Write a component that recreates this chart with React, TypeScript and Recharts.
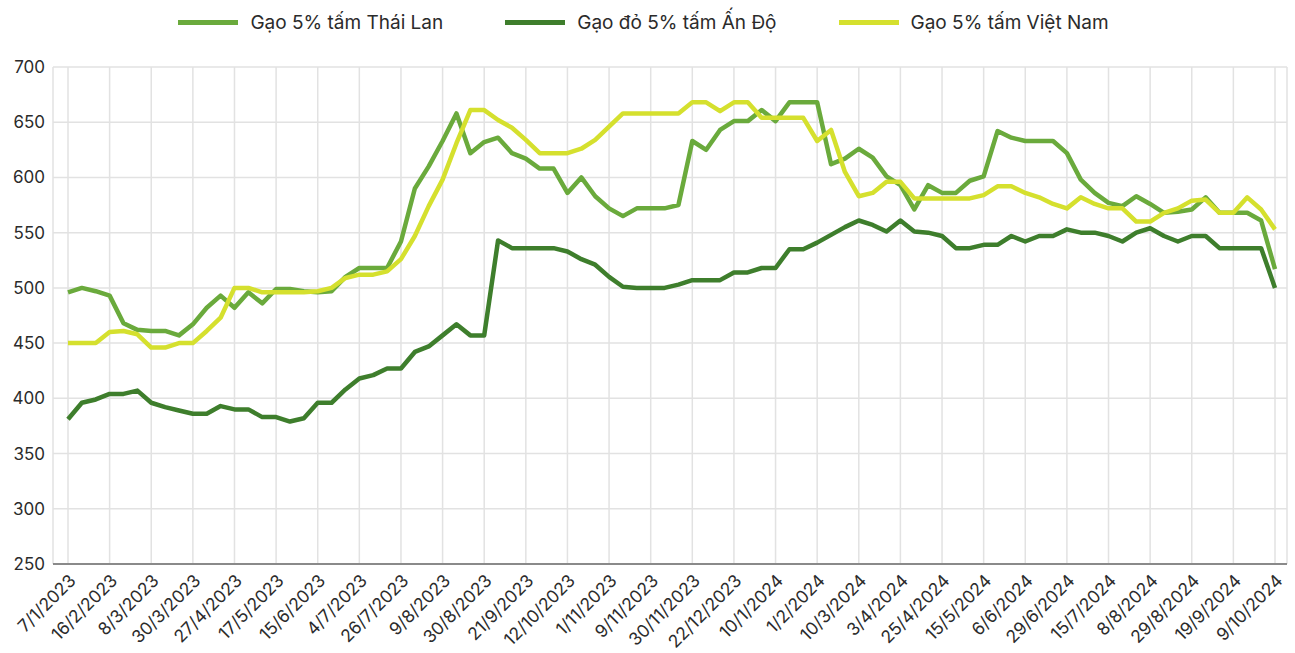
import React from 'react';
import { LineChart, Line, XAxis, YAxis, CartesianGrid, Legend } from 'recharts';

const tickLabels = [
  '7/1/2023', '16/2/2023', '8/3/2023', '30/3/2023', '27/4/2023', '17/5/2023', '15/6/2023', '4/7/2023',
  '26/7/2023', '9/8/2023', '30/8/2023', '21/9/2023', '12/10/2023', '1/11/2023', '9/11/2023', '30/11/2023',
  '22/12/2023', '10/1/2024', '1/2/2024', '10/3/2024', '3/4/2024', '25/4/2024', '15/5/2024', '6/6/2024',
  '29/6/2024', '15/7/2024', '8/8/2024', '29/8/2024', '19/9/2024', '9/10/2024',
];

const thai = [
  496, 500, 497, 493, 468, 462, 461, 461, 457, 467, 482, 493, 482, 496, 486, 499, 499, 497, 496, 497,
  510, 518, 518, 518, 542, 590, 610, 633, 658, 622, 632, 636, 622, 617, 608, 608, 586, 600, 583, 572,
  565, 572, 572, 572, 575, 633, 625, 643, 651, 651, 661, 651, 668, 668, 668, 612, 617, 626, 618, 601,
  593, 571, 593, 586, 586, 597, 601, 642, 636, 633, 633, 633, 622, 598, 586, 577, 574, 583, 576, 568,
  569, 571, 582, 568, 568, 568, 561, 517,
];

const india = [
  381, 396, 399, 404, 404, 407, 396, 392, 389, 386, 386, 393, 390, 390, 383, 383, 379, 382, 396, 396,
  408, 418, 421, 427, 427, 442, 447, 457, 467, 457, 457, 543, 536, 536, 536, 536, 533, 526, 521, 510,
  501, 500, 500, 500, 503, 507, 507, 507, 514, 514, 518, 518, 535, 535, 541, 548, 555, 561, 557, 551,
  561, 551, 550, 547, 536, 536, 539, 539, 547, 542, 547, 547, 553, 550, 550, 547, 542, 550, 554, 547,
  542, 547, 547, 536, 536, 536, 536, 500,
];

const vietnam = [
  450, 450, 450, 460, 461, 458, 446, 446, 450, 450, 461, 473, 500, 500, 496, 496, 496, 496, 497, 500,
  509, 512, 512, 515, 526, 547, 574, 598, 631, 661, 661, 652, 645, 634, 622, 622, 622, 626, 634, 646,
  658, 658, 658, 658, 658, 668, 668, 660, 668, 668, 654, 654, 654, 654, 633, 643, 605, 583, 586, 596,
  596, 581, 581, 581, 581, 581, 584, 592, 592, 586, 582, 576, 572, 582, 576, 572, 572, 560, 560, 568,
  572, 579, 580, 568, 568, 582, 571, 553,
];

const yTicks = [250, 300, 350, 400, 450, 500, 550, 600, 650, 700];
const POINTS_PER_TICK = 3;

const series = [
  { key: 'thai', name: 'Gạo 5% tấm Thái Lan', color: '#6AAA3C' },
  { key: 'india', name: 'Gạo đỏ 5% tấm Ấn Độ', color: '#3E7E2C' },
  { key: 'vietnam', name: 'Gạo 5% tấm Việt Nam', color: '#D5E02E' },
];

const data = thai.map((v, i) => ({ idx: i, thai: v, india: india[i], vietnam: vietnam[i] }));
const xTicks = tickLabels.map((_, i) => i * POINTS_PER_TICK);

const FONT = 'Inter, "Noto Sans", sans-serif';

const LegendContent = () => (
  <div style={{ display: 'flex', justifyContent: 'center', alignItems: 'center', height: 26, marginTop: 0, fontFamily: FONT, fontSize: 19, color: '#2b2b2b' }}>
    {series.map((s, i) => (
      <div key={s.key} style={{ display: 'flex', alignItems: 'center', marginLeft: i === 0 ? 0 : 62 }}>
        <span style={{ display: 'inline-block', width: 60, height: 5, background: s.color, marginRight: 12 }} />
        <span>{s.name}</span>
      </div>
    ))}
  </div>
);

export default function App() {
  return (
    <div style={{ position: 'absolute', left: 0, top: 0, width: 1295, height: 653, background: '#fff' }}>
      <LineChart width={1295} height={653} data={data} margin={{ top: 9, right: 8, bottom: 0, left: 0 }}>
        <CartesianGrid stroke="#e2e2e2" strokeWidth={1.5} />
        <Legend verticalAlign="top" height={58} content={<LegendContent />} />
        <XAxis
          dataKey="idx"
          type="number"
          domain={[0, 87]}
          ticks={xTicks}
          interval={0}
          tickFormatter={(v: number) => tickLabels[Math.round(v / POINTS_PER_TICK)]}
          padding={{ left: 15, right: 12 }}
          height={89}
          angle={-45}
          textAnchor="end"
          tickLine={false}
          tickMargin={3}
          axisLine={{ stroke: '#8a8a8a', strokeWidth: 2 }}
          tick={{ fill: '#2b2b2b', fontSize: 17.5, fontFamily: FONT }}
        />
        <YAxis
          domain={[250, 700]}
          ticks={yTicks}
          interval={0}
          width={53}
          tickLine={false}
          axisLine={false}
          tickMargin={2}
          tick={{ fill: '#2b2b2b', fontSize: 17, fontFamily: FONT }}
        />
        {series.map((s) => (
          <Line
            key={s.key}
            dataKey={s.key}
            name={s.name}
            stroke={s.color}
            strokeWidth={4.5}
            dot={false}
            type="linear"
            isAnimationActive={false}
            strokeLinejoin="round"
          />
        ))}
      </LineChart>
    </div>
  );
}
